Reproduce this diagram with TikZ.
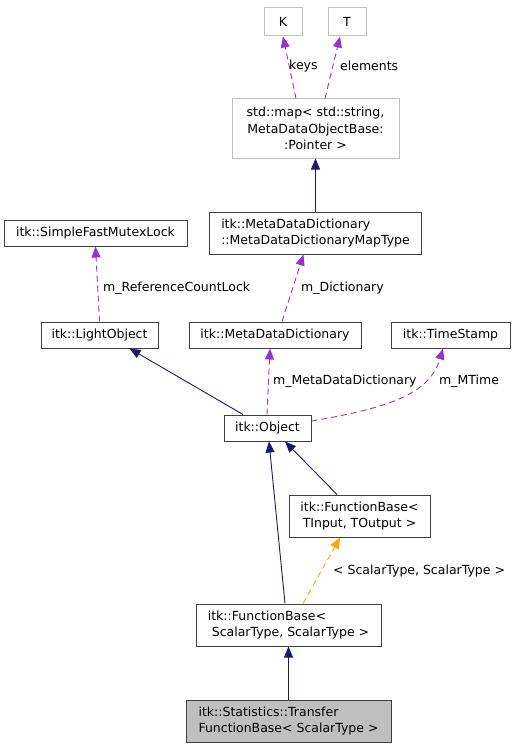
\documentclass[tikz,border=0pt]{standalone}
\usepackage{fontspec}
\setmainfont{DejaVu Sans}
\definecolor{inhblue}{RGB}{25,25,112}
\definecolor{usepurple}{RGB}{153,50,204}
\definecolor{tplorange}{RGB}{255,165,0}
\definecolor{boxgray}{RGB}{191,191,191}
\usetikzlibrary{arrows.meta,positioning}
\tikzset{
  cls/.style={draw=black!75, line width=1pt, fill=white, inner sep=0pt, align=center, font=\fontsize{12.5}{16.5}\selectfont},
  ext/.style={cls, draw=boxgray},
  lbl/.style={anchor=west, inner sep=0pt, font=\fontsize{12.5}{16.5}\selectfont},
  inh/.style={-{Triangle[length=11pt,width=9pt]}, inhblue, line width=0.9pt},
  usage/.style={-{Triangle[length=11pt,width=9pt]}, usepurple, line width=0.9pt, dash pattern=on 6pt off 4pt},
  tmpl/.style={-{Triangle[length=11pt,width=9pt]}, tplorange, line width=0.9pt, dash pattern=on 6pt off 4pt}
}
\begin{document}
\begin{tikzpicture}[x=1pt,y=-1pt]
  \useasboundingbox (0,0) rectangle (515,749);
  % template arguments
  \node[ext, minimum width=38pt, minimum height=28pt] (K) at (283,22) {K};
  \node[ext, minimum width=38pt, minimum height=28pt] (T) at (347,22) {T};
  \node[ext, minimum width=167pt, minimum height=59pt] (map) at (315.5,128.5) {std::map< std::string,\\ MetaDataObjectBase:\\:Pointer >};
  % dictionary and lock
  \node[cls, minimum width=212pt, minimum height=42pt, align=left] (maptype) at (315.5,233) {itk::MetaDataDictionary\\::MetaDataDictionaryMapType};
  \node[cls, minimum width=183pt, minimum height=26pt] (mutex) at (95.5,233) {itk::SimpleFastMutexLock};
  \node[cls, minimum width=117pt, minimum height=26pt] (light) at (99.5,335) {itk::LightObject};
  \node[cls, minimum width=172pt, minimum height=26pt] (dict) at (275,335) {itk::MetaDataDictionary};
  \node[cls, minimum width=119pt, minimum height=26pt] (stamp) at (450.5,335) {itk::TimeStamp};
  \node[cls, minimum width=87pt, minimum height=26pt] (object) at (267.5,428) {itk::Object};
  % function bases
  \node[cls, minimum width=141pt, minimum height=42pt] (fbase) at (359.5,516) {itk::FunctionBase<\\ TInput, TOutput >};
  \node[cls, minimum width=185pt, minimum height=42pt, align=left] (fscalar) at (288.5,625) {itk::FunctionBase<\\ \ ScalarType, ScalarType >};
  \node[cls, fill=boxgray, minimum width=205pt, minimum height=42pt, align=left] (transfer) at (288.5,721) {itk::Statistics::Transfer\\FunctionBase< ScalarType >};
  % connectors
  \draw[usage] ([xshift=-19.5pt]map.north) -- (K.south);
  \draw[usage] ([xshift=9.5pt]map.north) -- ([xshift=-7pt]T.south);
  \draw[inh] (maptype.north) -- (map.south);
  \draw[usage] (light.north) -- (mutex.south);
  \draw[usage] ([xshift=7pt]dict.north) -- ([xshift=-12pt]maptype.south);
  \draw[inh] ([xshift=-24.5pt]object.north) -- ([xshift=30pt]light.south);
  \draw[usage] ([xshift=-0.5pt]object.north) -- ([xshift=-5pt]dict.south);
  \draw[usage] ([yshift=7pt]object.east) .. controls (395,407) and (430,392) .. ([xshift=-7.5pt]stamp.south);
  \draw[inh] ([xshift=-22.5pt]fbase.north) -- ([xshift=17.5pt]object.south);
  \draw[inh] ([xshift=-3.5pt]fscalar.north) -- ([xshift=1.5pt]object.south);
  \draw[tmpl] ([xshift=14.5pt]fscalar.north) -- ([xshift=-19.5pt]fbase.south);
  \draw[inh] (transfer.north) -- (fscalar.south);
  % labels
  \node[lbl] (lkeys) at (289,66) {keys};
  \node[lbl] (lelem) at (340,66) {elements};
  \node[lbl] (lref) at (103,288) {m\_ReferenceCountLock};
  \node[lbl] (ldict) at (301,288) {m\_Dictionary};
  \node[lbl] (lmdd) at (273,381) {m\_MetaDataDictionary};
  \node[lbl] (lmtime) at (439,381) {m\_MTime};
  \node[lbl] (ltmpl) at (333,571) {< ScalarType, ScalarType >};
\end{tikzpicture}
\end{document}
